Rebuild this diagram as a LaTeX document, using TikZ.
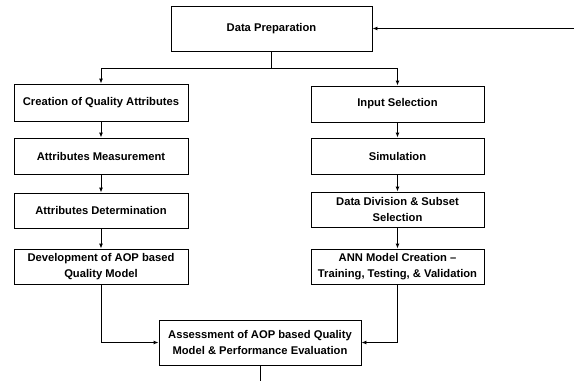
\documentclass[tikz,border=0pt]{standalone}
\usepackage{fontspec}
\setmainfont{Liberation Sans}
\usetikzlibrary{arrows.meta}
\begin{document}
\begin{tikzpicture}[x=1pt,y=-1pt,
  box/.style={draw=black,line width=0.9pt,fill=white,align=center,inner sep=0pt,
    font=\fontsize{11.2}{15.5}\selectfont\bfseries},
  conn/.style={line width=0.9pt,-{Latex[length=5pt,width=4pt]}},
  plain/.style={line width=0.9pt}]
\useasboundingbox (0,0) rectangle (574,381);
\node[box,minimum width=201pt,minimum height=45pt] (dp) at (271.5,28.5) {Data Preparation};
\node[box,minimum width=174pt,minimum height=37pt] (cq) at (101,102.5) {Creation of Quality Attributes};
\node[box,minimum width=173pt,minimum height=36pt] (is) at (397.5,104) {Input Selection};
\node[box,minimum width=174pt,minimum height=36pt] (am) at (101,156) {Attributes Measurement};
\node[box,minimum width=173pt,minimum height=36pt] (si) at (397.5,156) {Simulation};
\node[box,minimum width=174pt,minimum height=35pt] (ad) at (101,210.5) {Attributes Determination};
\node[box,minimum width=173pt,minimum height=35pt] (dd) at (397.5,209.5) {Data Division \& Subset\\Selection};
\node[box,minimum width=174pt,minimum height=35pt] (de) at (101,266.5) {Development of AOP based\\Quality Model};
\node[box,minimum width=173pt,minimum height=35pt] (ann) at (397.5,266.5) {ANN Model Creation --\\Training, Testing, \& Validation};
\node[box,minimum width=202pt,minimum height=45pt] (as) at (260,342.5) {Assessment of AOP based Quality\\Model \& Performance Evaluation};
\coordinate (fb) at (574,28.5);
\coordinate (split) at (271.5,68);
\coordinate (out) at (260,381);
\draw[conn] (fb) -- (dp.east);
\draw[plain,line width=1.3pt] (dp.south) -- (split);
\draw[conn] (split) -| (cq.north);
\draw[conn] (split) -| (is.north);
\draw[conn] (cq) -- (am);
\draw[conn] (am) -- (ad);
\draw[conn] (ad) -- (de);
\draw[conn] (is) -- (si);
\draw[conn] (si) -- (dd);
\draw[conn] (dd) -- (ann);
\draw[conn] (de.south) |- (as.west);
\draw[conn] (ann.south) |- (as.east);
\draw[plain] (as.south) -- (out);
\end{tikzpicture}
\end{document}
